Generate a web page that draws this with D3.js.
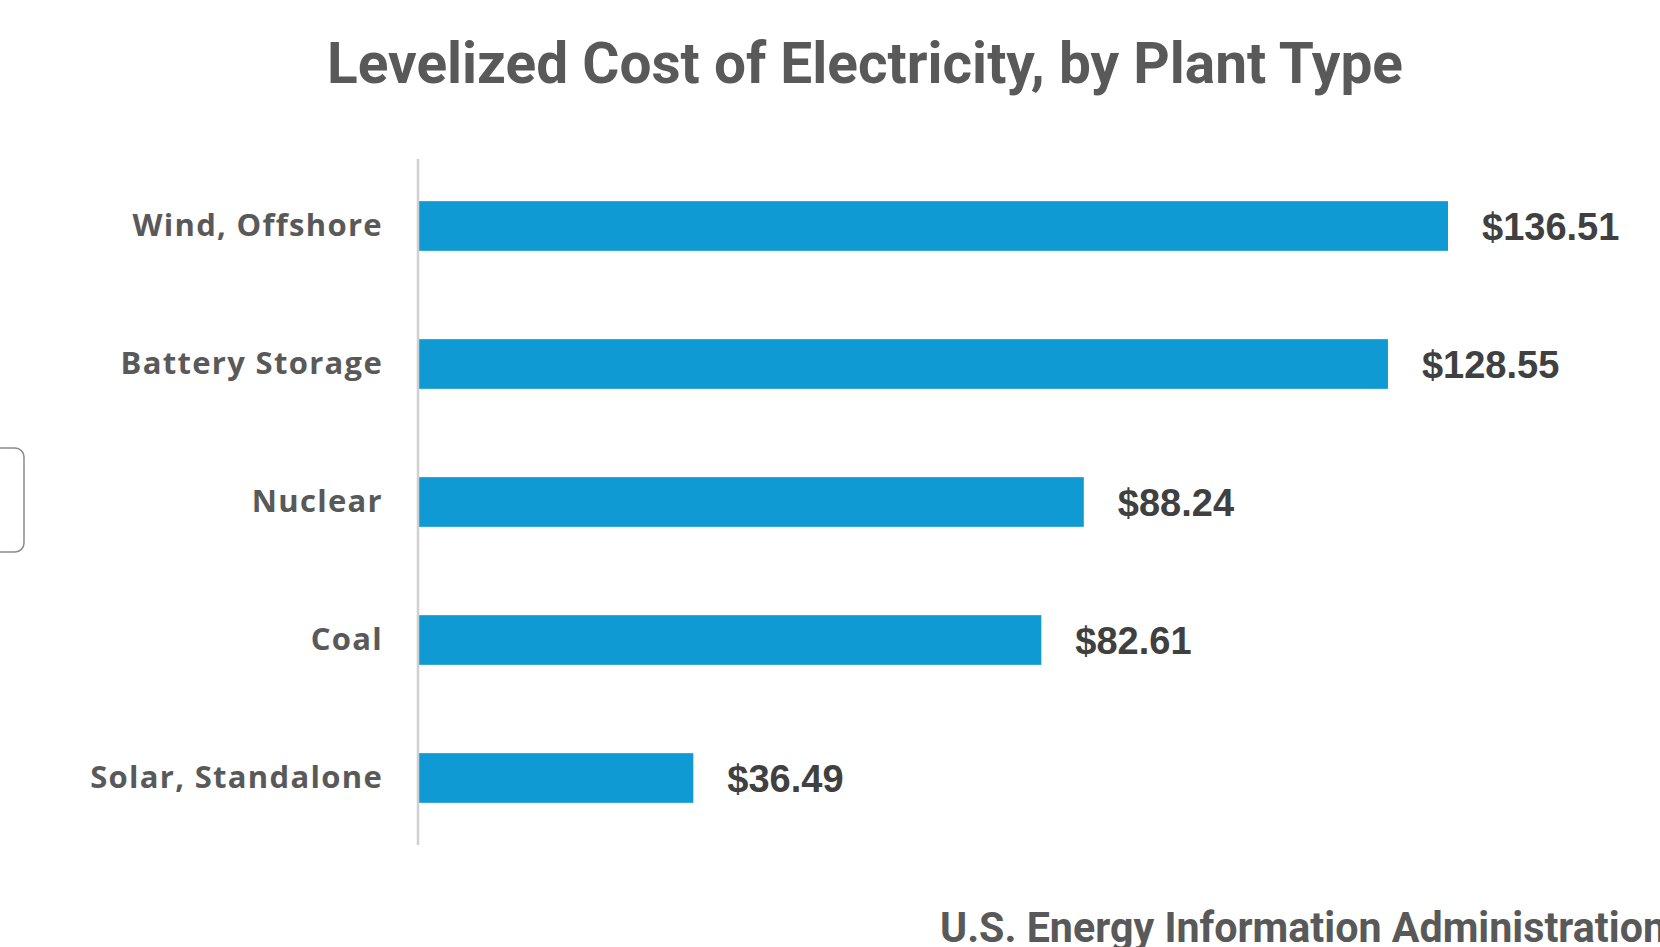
<!DOCTYPE html>
<html><head><meta charset="utf-8">
<script src="https://cdn.jsdelivr.net/npm/d3@7"></script>
<style>html,body{margin:0;padding:0;background:#fff;overflow:hidden}</style>
</head><body>
<svg id="c" width="1660" height="947"></svg>
<script>
const categories = ["Wind, Offshore","Battery Storage","Nuclear","Coal","Solar, Standalone"];
const values = [136.51,128.55,88.24,82.61,36.49];
const valueLabels = ["$136.51","$128.55","$88.24","$82.61","$36.49"];
const title = "Levelized Cost of Electricity, by Plant Type";
const source = "U.S. Energy Information Administration";

const svg = d3.select("#c");
const x = d3.scaleLinear().domain([0,150]).range([418,1549.8]);
const y = d3.scaleBand().domain(categories).range([157,847]).paddingInner(0.64).paddingOuter(0.32);

// partial rounded box at left edge
svg.append("rect").attr("x",-30).attr("y",448).attr("width",54).attr("height",104)
  .attr("rx",9).attr("fill","none").attr("stroke","#8a8a8a").attr("stroke-width",1.5);

svg.append("text").attr("x",865).attr("y",83).attr("text-anchor","middle")
  .attr("font-family","'Liberation Sans Narrow','Roboto','Liberation Sans',sans-serif")
  .attr("font-weight","bold").attr("font-size",58).attr("fill","#595959")
  .attr("textLength",1076).attr("lengthAdjust","spacingAndGlyphs").text(title);

svg.selectAll("rect.bar").data(values).join("rect").attr("class","bar")
  .attr("x",x(0)).attr("y",(d,i)=>y(categories[i]))
  .attr("width",d=>x(d)-x(0)).attr("height",y.bandwidth()).attr("fill","#109AD4");

const yAxis = svg.append("g").attr("transform",`translate(${x(0)},0)`)
  .call(d3.axisLeft(y).tickSize(0).tickPadding(35));
yAxis.select(".domain").attr("stroke","#d0d0d0").attr("stroke-width",2.5)
  .attr("d",`M0,159V845`);
yAxis.selectAll("text").attr("font-family","'Open Sans',Lato,sans-serif")
  .attr("font-weight","bold").attr("font-size",31).attr("letter-spacing",1.3).attr("fill","#595959");

svg.selectAll("text.val").data(values).join("text").attr("class","val")
  .attr("x",d=>x(d)+34).attr("y",(d,i)=>y(categories[i])+y.bandwidth()/2)
  .attr("dy","0.36em")
  .attr("font-family","'Liberation Sans',Arial,sans-serif").attr("font-weight","bold")
  .attr("font-size",38).attr("fill","#404040").text((d,i)=>valueLabels[i]);

svg.append("text").attr("x",940).attr("y",942)
  .attr("font-family","'Liberation Sans Narrow','Roboto','Liberation Sans',sans-serif")
  .attr("font-weight","bold").attr("font-size",42).attr("fill","#595959")
  .attr("textLength",726).attr("lengthAdjust","spacingAndGlyphs").text(source);
</script>
</body></html>
